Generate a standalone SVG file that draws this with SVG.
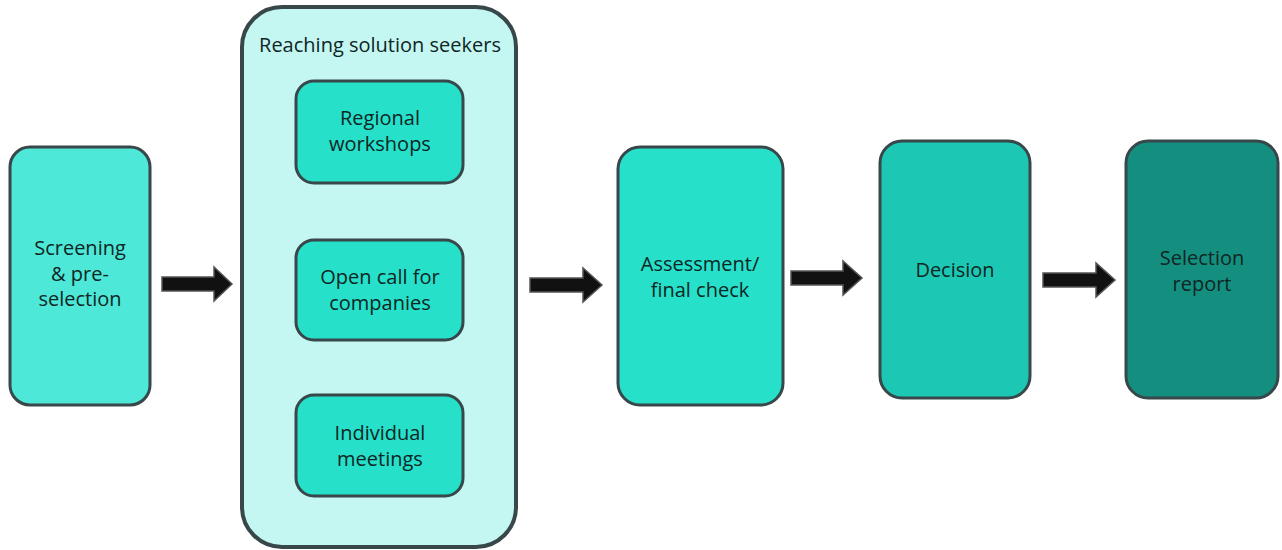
<svg xmlns="http://www.w3.org/2000/svg" width="1282" height="550" viewBox="0 0 1282 550">
<defs>
<style>
.box{stroke:#37474a;stroke-width:3}
.t{font-family:"Open Sans","Liberation Sans",sans-serif;font-size:20px;fill:#0f2624;text-anchor:middle}
.arr{fill:#111;stroke:#555;stroke-width:1.5;stroke-linejoin:miter}
</style>
</defs>
<rect width="1282" height="550" fill="#fff"/>
<g id="screening">
<rect class="box" x="10" y="147" width="140" height="258" rx="20" fill="#4de8d7"/>
<text class="t" x="80" y="255">Screening</text>
<text class="t" x="80" y="281">&amp; pre-</text>
<text class="t" x="80" y="306">selection</text>
</g>
<g id="reaching">
<rect x="242" y="7" width="274" height="540" rx="40" fill="#c4f7f1" stroke="#37474a" stroke-width="4"/>
<text class="t" x="380" y="52">Reaching solution seekers</text>
</g>
<g id="regional">
<rect class="box" x="296" y="81" width="167" height="102" rx="18" fill="#26e0c9"/>
<text class="t" x="380" y="125">Regional</text>
<text class="t" x="380" y="151">workshops</text>
</g>
<g id="opencall">
<rect class="box" x="296" y="240" width="167" height="100" rx="18" fill="#26e0c9"/>
<text class="t" x="380" y="284">Open call for</text>
<text class="t" x="380" y="310">companies</text>
</g>
<g id="individual">
<rect class="box" x="296" y="395" width="167" height="101" rx="18" fill="#26e0c9"/>
<text class="t" x="380" y="440">Individual</text>
<text class="t" x="380" y="466">meetings</text>
</g>
<g id="assessment">
<rect class="box" x="618" y="147" width="165" height="258" rx="22" fill="#26e0ca"/>
<text class="t" x="700" y="271">Assessment/</text>
<text class="t" x="700" y="297">final check</text>
</g>
<g id="decision">
<rect class="box" x="880" y="141" width="150" height="257" rx="22" fill="#1cc8b3"/>
<text class="t" x="955" y="277">Decision</text>
</g>
<g id="report">
<rect class="box" x="1126" y="141" width="152" height="257" rx="22" fill="#148f7f"/>
<text class="t" x="1202" y="265">Selection</text>
<text class="t" x="1202" y="291">report</text>
</g>
<g id="connectors">
<polygon class="arr" points="162,277 214,277 214,267 232,284 214,301 214,291 162,291"/>
<polygon class="arr" points="530,278 583,278 583,268 602,285 583,302 583,292 530,292"/>
<polygon class="arr" points="791,271 843,271 843,261 862,278 843,295 843,285 791,285"/>
<polygon class="arr" points="1043,273 1096,273 1096,263 1115,280 1096,297 1096,287 1043,287"/>
</g>
</svg>
